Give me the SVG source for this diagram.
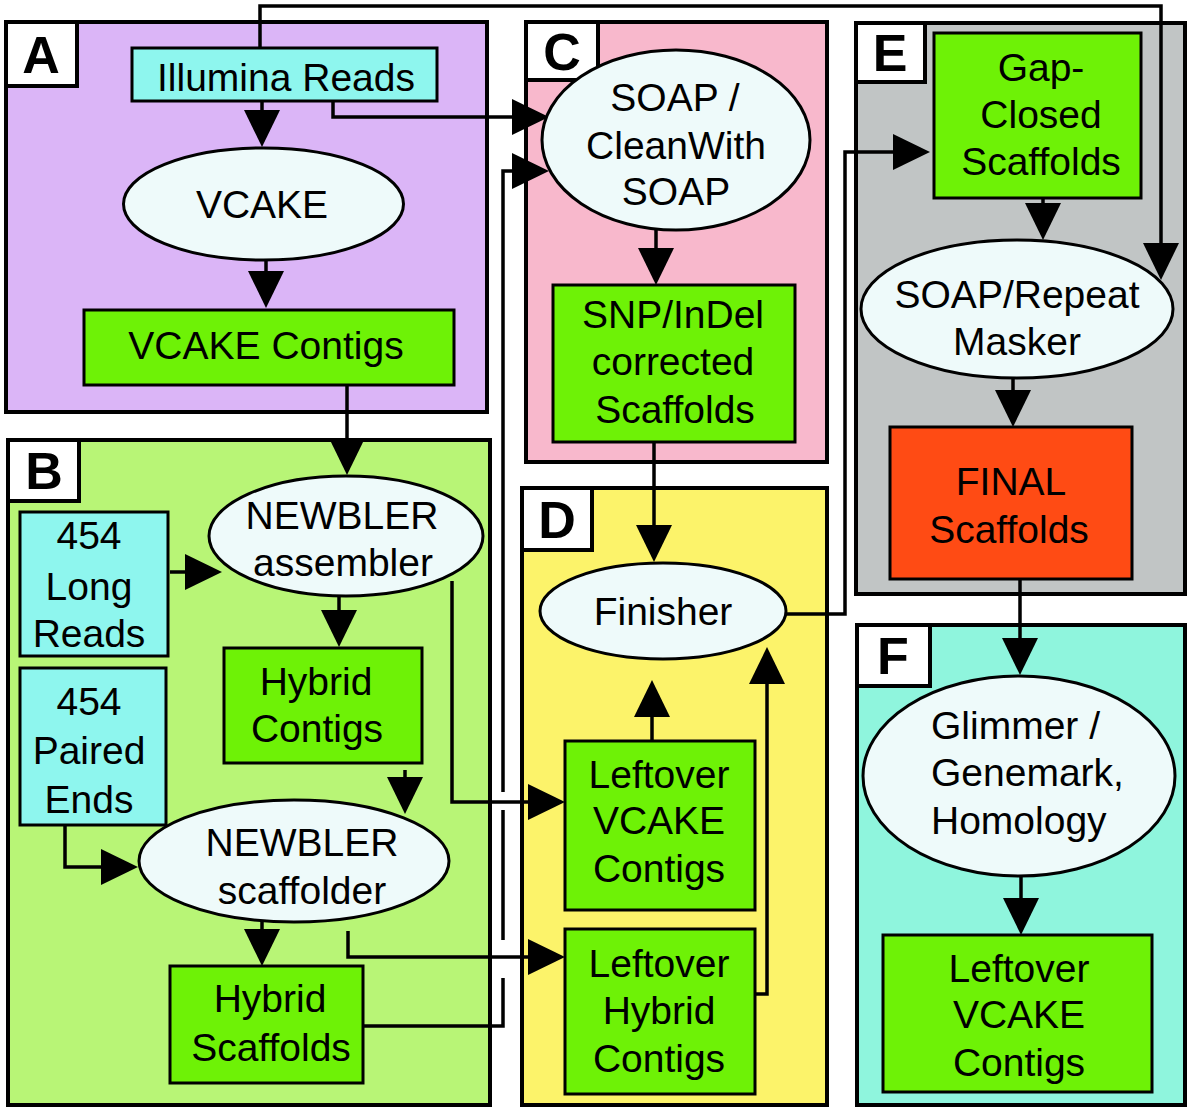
<svg xmlns="http://www.w3.org/2000/svg" width="1190" height="1112" viewBox="0 0 1190 1112">
<style>
.panel{stroke:#000;stroke-width:4}
.lbl{fill:#fff;stroke:#000;stroke-width:4}
.lt{font-family:"Liberation Sans",Arial,sans-serif;font-weight:bold;font-size:52px;text-anchor:middle;fill:#000}
.t{font-family:"Liberation Sans",Arial,sans-serif;font-size:39px;text-anchor:middle;fill:#000}
.ts{text-anchor:start}
.g{fill:#6ef206;stroke:#000;stroke-width:3}
.c{fill:#8ef6ee;stroke:#000;stroke-width:3}
.e{fill:#eefafa;stroke:#000;stroke-width:3}
.f{fill:#ff4b14;stroke:#000;stroke-width:3}
.con{fill:none;stroke:#000;stroke-width:3.5}
</style>
<defs>
<marker id="ah" markerUnits="userSpaceOnUse" viewBox="0 0 37 36" markerWidth="37" markerHeight="36" refX="0" refY="18" orient="auto">
<path d="M0,0 L37,18 L0,36 z" fill="#000"/>
</marker>
</defs>
<rect width="1190" height="1112" fill="#fff"/>
<g id="panels">
<rect class="panel" x="6" y="22" width="481" height="390" fill="#dbb5f7"/>
<rect class="panel" x="8" y="440" width="482" height="665" fill="#b8f576"/>
<rect class="panel" x="526" y="22" width="301" height="440" fill="#f8b8cc"/>
<rect class="panel" x="522" y="488" width="305" height="617" fill="#fcf36a"/>
<rect class="panel" x="856" y="23" width="329" height="571" fill="#c1c5c5"/>
<rect class="panel" x="857" y="625" width="328" height="480" fill="#8ff5dd"/>
<rect class="lbl" x="6" y="22" width="71" height="64"/>
<rect class="lbl" x="8" y="440" width="71" height="61"/>
<rect class="lbl" x="526" y="22" width="72" height="58"/>
<rect class="lbl" x="522" y="488" width="70" height="62"/>
<rect class="lbl" x="856" y="23" width="69" height="59"/>
<rect class="lbl" x="857" y="625" width="73" height="61"/>
<text class="lt" x="41" y="73">A</text>
<text class="lt" x="44" y="489">B</text>
<text class="lt" x="562" y="70">C</text>
<text class="lt" x="557" y="538">D</text>
<text class="lt" x="890" y="71">E</text>
<text class="lt" x="893" y="674">F</text>
</g>
<g id="connectors" class="con">
<path d="M262,101 V110" marker-end="url(#ah)"/>
<path d="M266,260 V271" marker-end="url(#ah)"/>
<path d="M260,48 V6 H1161 V243" marker-end="url(#ah)"/>
<path d="M333,101 V117 H512" marker-end="url(#ah)"/>
<path d="M363,1026 H503 V978 M503,940 V810 M503,792 V171 H512" marker-end="url(#ah)"/>
<path d="M452,581 V802 H528" marker-end="url(#ah)"/>
<path d="M348,931 V957 H528" marker-end="url(#ah)"/>
<path d="M347,385 V438" marker-end="url(#ah)"/>
<path d="M170,572 H185" marker-end="url(#ah)"/>
<path d="M65,825 V867 H101" marker-end="url(#ah)"/>
<path d="M339,596 V610" marker-end="url(#ah)"/>
<path d="M405,770 V777" marker-end="url(#ah)"/>
<path d="M262,922 V929" marker-end="url(#ah)"/>
<path d="M656,230 V248" marker-end="url(#ah)"/>
<path d="M654,442 V525" marker-end="url(#ah)"/>
<path d="M652,741 V717" marker-end="url(#ah)"/>
<path d="M755,994 H767 V684" marker-end="url(#ah)"/>
<path d="M786,614 H845 V152 H893" marker-end="url(#ah)"/>
<path d="M1043,198 V203" marker-end="url(#ah)"/>
<path d="M1013,378 V390" marker-end="url(#ah)"/>
<path d="M1020,580 V638" marker-end="url(#ah)"/>
<path d="M1021,876 V898" marker-end="url(#ah)"/>
</g>
<g id="illumina"><rect class="c" x="132" y="48" width="305" height="53"/><text class="t" x="286" y="91">Illumina Reads</text></g>
<g id="vcake"><ellipse class="e" cx="263.5" cy="204" rx="140" ry="56"/><text class="t" x="262" y="218">VCAKE</text></g>
<g id="vcake-contigs"><rect class="g" x="84" y="310" width="370" height="75"/><text class="t" x="266" y="359">VCAKE Contigs</text></g>
<g id="long-reads"><rect class="c" x="20" y="512" width="148" height="144"/><text class="t" x="89" y="549">454</text><text class="t" x="89" y="600">Long</text><text class="t" x="89" y="647">Reads</text></g>
<g id="paired-ends"><rect class="c" x="20" y="668" width="146" height="157"/><text class="t" x="89" y="715">454</text><text class="t" x="89" y="764">Paired</text><text class="t" x="89" y="813">Ends</text></g>
<g id="newbler-assembler"><ellipse class="e" cx="346" cy="536" rx="137" ry="60"/><text class="t" x="342" y="529">NEWBLER</text><text class="t" x="343" y="576">assembler</text></g>
<g id="hybrid-contigs"><rect class="g" x="224" y="648" width="198" height="115"/><text class="t" x="316" y="695">Hybrid</text><text class="t" x="317" y="742">Contigs</text></g>
<g id="newbler-scaffolder"><ellipse class="e" cx="294" cy="861" rx="155" ry="61"/><text class="t" x="302" y="856">NEWBLER</text><text class="t" x="302" y="904">scaffolder</text></g>
<g id="hybrid-scaffolds"><rect class="g" x="170" y="966" width="193" height="117"/><text class="t" x="270" y="1012">Hybrid</text><text class="t" x="271" y="1061">Scaffolds</text></g>
<g id="soap-clean"><ellipse class="e" cx="676" cy="140" rx="134" ry="90"/><text class="t" x="675" y="111">SOAP /</text><text class="t" x="676" y="159">CleanWith</text><text class="t" x="676" y="205">SOAP</text></g>
<g id="snp-indel"><rect class="g" x="553" y="285" width="242" height="157"/><text class="t" x="673" y="328">SNP/InDel</text><text class="t" x="673" y="375">corrected</text><text class="t" x="675" y="423">Scaffolds</text></g>
<g id="finisher"><ellipse class="e" cx="663" cy="611" rx="123" ry="48"/><text class="t" x="663" y="625">Finisher</text></g>
<g id="leftover-vcake-d"><rect class="g" x="565" y="741" width="190" height="169"/><text class="t" x="659" y="788">Leftover</text><text class="t" x="659" y="834">VCAKE</text><text class="t" x="659" y="882">Contigs</text></g>
<g id="leftover-hybrid-d"><rect class="g" x="565" y="929" width="190" height="165"/><text class="t" x="659" y="977">Leftover</text><text class="t" x="659" y="1024">Hybrid</text><text class="t" x="659" y="1072">Contigs</text></g>
<g id="gap-closed"><rect class="g" x="934" y="33" width="207" height="165"/><text class="t" x="1041" y="81">Gap-</text><text class="t" x="1041" y="128">Closed</text><text class="t" x="1041" y="175">Scaffolds</text></g>
<g id="soap-repeat"><ellipse class="e" cx="1017" cy="309" rx="156" ry="69"/><text class="t" x="1017" y="308">SOAP/Repeat</text><text class="t" x="1017" y="355">Masker</text></g>
<g id="final"><rect class="f" x="890" y="427" width="242" height="152"/><text class="t" x="1011" y="495">FINAL</text><text class="t" x="1009" y="543">Scaffolds</text></g>
<g id="glimmer"><ellipse class="e" cx="1019" cy="776" rx="156" ry="100"/><text class="t ts" x="931" y="739">Glimmer /</text><text class="t ts" x="931" y="786">Genemark,</text><text class="t ts" x="931" y="834">Homology</text></g>
<g id="leftover-vcake-f"><rect class="g" x="883" y="935" width="269" height="157"/><text class="t" x="1019" y="982">Leftover</text><text class="t" x="1019" y="1028">VCAKE</text><text class="t" x="1019" y="1076">Contigs</text></g>
</svg>
